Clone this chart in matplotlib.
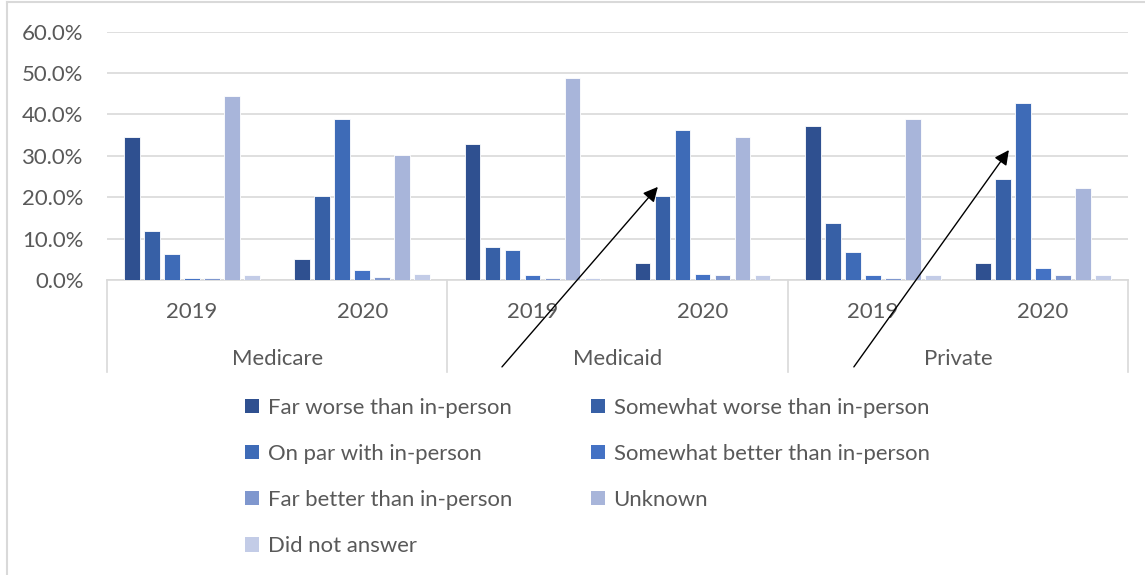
import matplotlib
matplotlib.use("Agg")
import matplotlib.pyplot as plt
from matplotlib.patches import Patch
from matplotlib.lines import Line2D
from matplotlib.ticker import PercentFormatter
import numpy as np

plt.rcParams['font.family'] = ['Lato', 'DejaVu Sans']

# Payer / year clusters
payers = ["Medicare", "Medicaid", "Private"]
years = ["2019", "2020"]

# Response categories (series)
series_labels = [
    "Far worse than in-person",
    "Somewhat worse than in-person",
    "On par with in-person",
    "Somewhat better than in-person",
    "Far better than in-person",
    "Unknown",
    "Did not answer",
]

# Share of respondents (%) per cluster:
# Medicare 2019, Medicare 2020, Medicaid 2019, Medicaid 2020, Private 2019, Private 2020
far_worse = [34.5, 5.0, 32.8, 4.1, 37.1, 4.1]
somewhat_worse = [11.9, 20.2, 8.0, 20.2, 13.7, 24.5]
on_par = [6.3, 38.8, 7.2, 36.3, 6.8, 42.7]
somewhat_better = [0.4, 2.4, 1.1, 1.5, 1.1, 2.8]
far_better = [0.4, 0.7, 0.4, 1.1, 0.4, 1.1]
unknown = [44.4, 30.2, 48.8, 34.5, 38.8, 22.3]
did_not_answer = [1.1, 1.5, 0.6, 1.1, 1.1, 1.1]

series_values = [far_worse, somewhat_worse, on_par, somewhat_better,
                 far_better, unknown, did_not_answer]

colors = ["#2F5090", "#3760A6", "#3E6BB7", "#4472C4",
          "#7F97CE", "#A8B5DA", "#C3CCE7"]

TEXT = "#595959"
GRID = "#D9D9D9"
FS = 15.9

W, H = 1145, 575
fig = plt.figure(figsize=(W / 100, H / 100), dpi=100)
ax = fig.add_axes([107 / W, 1 - 280 / H, (1128 - 107) / W, (280 - 31.7) / H])

n_clusters = len(payers) * len(years)
centers = np.arange(n_clusters) + 0.5
step = 0.1175
width = 0.092
for i, (vals, col) in enumerate(zip(series_values, colors)):
    ax.bar(centers + (i - 3) * step, vals, width=width, color=col,
           edgecolor="white", linewidth=0.6, label=series_labels[i], zorder=3)

ax.set_xlim(0, n_clusters)
ax.set_ylim(0, 60)
ax.set_yticks(np.arange(0, 61, 10))
ax.yaxis.set_major_formatter(PercentFormatter(decimals=1))
ax.tick_params(axis="y", length=0, pad=17, labelsize=FS, labelcolor=TEXT)
ax.set_xticks([])
ax.grid(axis="y", color=GRID, linewidth=1.2, zorder=0)
for s in ["left", "right", "top"]:
    ax.spines[s].set_visible(False)
ax.spines["bottom"].set_color(GRID)
ax.spines["bottom"].set_linewidth(1.2)

# Two-level category axis
xt = ax.get_xaxis_transform()
for k in range(n_clusters):
    ax.text(centers[k], -0.128, years[k % 2], transform=xt, ha="center",
            va="center", fontsize=FS, color=TEXT)
for g, name in enumerate(payers):
    ax.text(2 * g + 1, -0.318, name, transform=xt, ha="center", va="center",
            fontsize=FS, color=TEXT)
for xb in range(0, n_clusters + 1, 2):
    ax.add_line(Line2D([xb, xb], [0, -0.3705], transform=xt, color=GRID,
                       linewidth=1.2, clip_on=False))

# Arrows highlighting the shift toward "on par" in 2020
arrow_kw = dict(arrowstyle="-|>", color="black", lw=1.0, mutation_scale=22,
                shrinkA=0, shrinkB=0)
ax.annotate("", xy=(3.237, 22.5), xytext=(2.321, -21.0),
            arrowprops=arrow_kw, annotation_clip=False)
ax.annotate("", xy=(5.30, 31.4), xytext=(4.389, -21.0),
            arrowprops=arrow_kw, annotation_clip=False)

# Legend in two columns, filled row by row
handles = [Patch(facecolor=c, edgecolor="none") for c in colors]
left_idx = [0, 2, 4, 6]
right_idx = [1, 3, 5]
leg_kw = dict(loc="upper left", frameon=False, fontsize=FS,
              handlelength=0.62, handleheight=0.62, handletextpad=0.4,
              labelspacing=1.18, borderpad=0, borderaxespad=0,
              labelcolor=TEXT)
leg1 = fig.legend([handles[i] for i in left_idx],
                  [series_labels[i] for i in left_idx],
                  bbox_to_anchor=(245 / W, 1 - 398 / H), **leg_kw)
leg2 = fig.legend([handles[i] for i in right_idx],
                  [series_labels[i] for i in right_idx],
                  bbox_to_anchor=(591 / W, 1 - 398 / H), **leg_kw)

# Chart frame (left and top edges)
fig.add_artist(Line2D([7 / W, 7 / W], [0, 1 - 2 / H], transform=fig.transFigure,
                      color=GRID, linewidth=1.5))
fig.add_artist(Line2D([7 / W, 1], [1 - 2 / H, 1 - 2 / H], transform=fig.transFigure,
                      color=GRID, linewidth=1.5))

fig.savefig("out.png", dpi=100)
